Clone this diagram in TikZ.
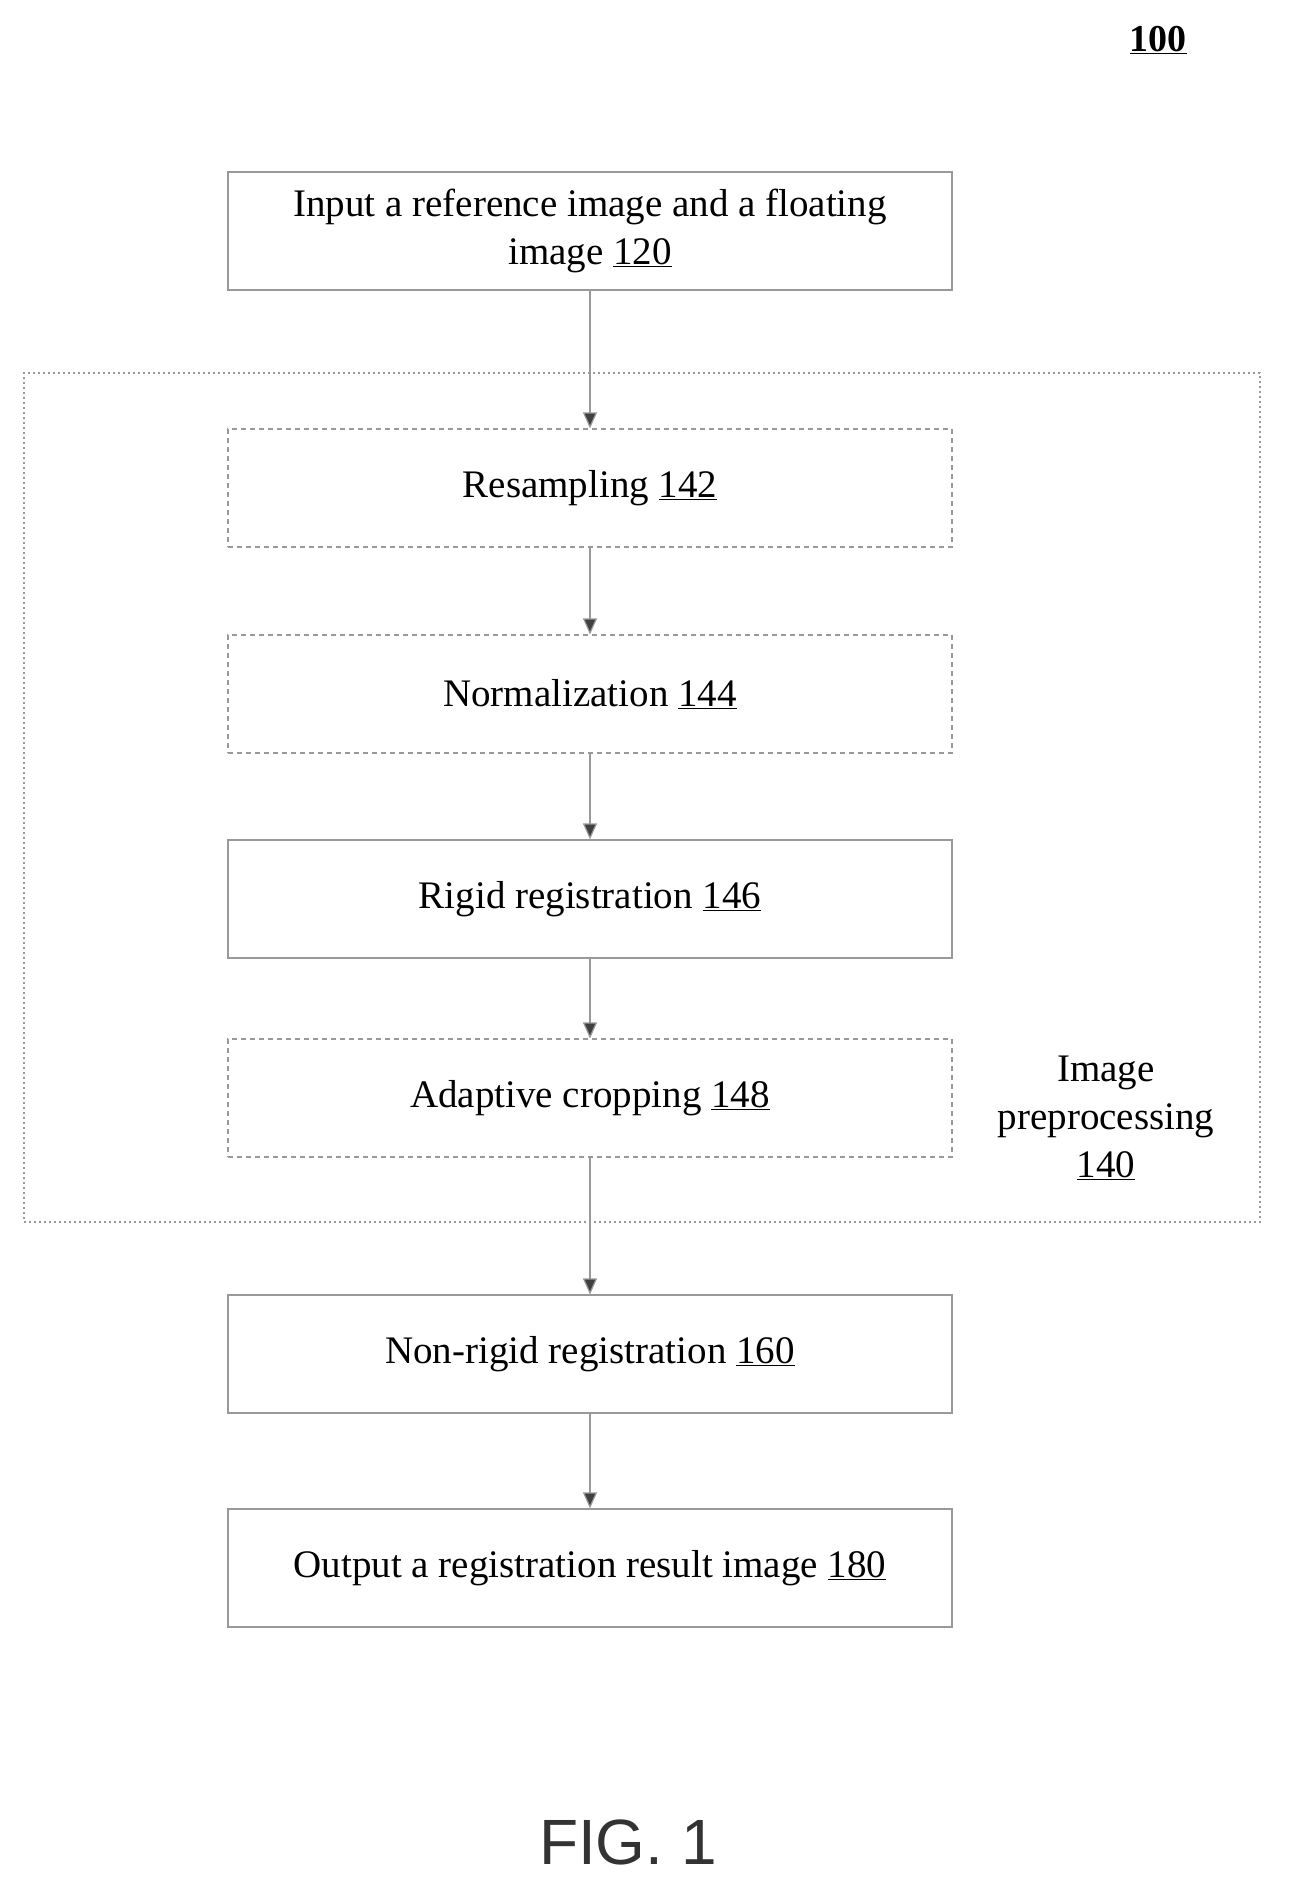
\documentclass[tikz,border=0pt]{standalone}
\usepackage{fontspec}
\setmainfont{Liberation Serif}
\setsansfont{Liberation Sans}
\usetikzlibrary{arrows.meta}
\begin{document}
\begin{tikzpicture}[x=1pt,y=-1pt,
  box/.style={draw=gray!80,line width=1.2pt,minimum width=724pt,minimum height=118pt,align=center,font=\fontsize{39}{48}\selectfont,inner sep=0pt},
  dbox/.style={box,dashed,dash pattern=on 5pt off 4pt},
  arr/.style={draw=gray!80,line width=1.2pt,-{Triangle[length=16pt,width=14pt,fill=black!75]}}]
\useasboundingbox (0,0) rectangle (1298,1903);
\node[font=\bfseries\fontsize{38}{40}\selectfont] (num) at (1158,40) {\underline{100}};
\node[box] (n120) at (590,231) {Input a reference image and a floating\\image \underline{120}};
\node[draw=gray!80,line width=1.2pt,dash pattern=on 2pt off 3pt,minimum width=1236pt,minimum height=849pt] (grp) at (642,797.5) {};
\node[dbox] (n142) at (590,488) {Resampling \underline{142}};
\node[dbox] (n144) at (590,694) {Normalization \underline{144}};
\node[box] (n146) at (590,899) {Rigid registration \underline{146}};
\node[dbox] (n148) at (590,1098) {Adaptive cropping \underline{148}};
\node[font=\fontsize{39}{48}\selectfont,align=center] (lbl) at (1106,1118) {Image\\preprocessing\\\underline{140}};
\node[box] (n160) at (590,1354) {Non-rigid registration \underline{160}};
\node[box] (n180) at (590,1568) {Output a registration result image \underline{180}};
\node[font=\sffamily\fontsize{64}{70}\selectfont,text=black!80] (fig) at (628,1842) {FIG. 1};
\draw[arr] (n120) -- (n142);
\draw[arr] (n142) -- (n144);
\draw[arr] (n144) -- (n146);
\draw[arr] (n146) -- (n148);
\draw[arr] (n148) -- (n160);
\draw[arr] (n160) -- (n180);
\end{tikzpicture}
\end{document}
